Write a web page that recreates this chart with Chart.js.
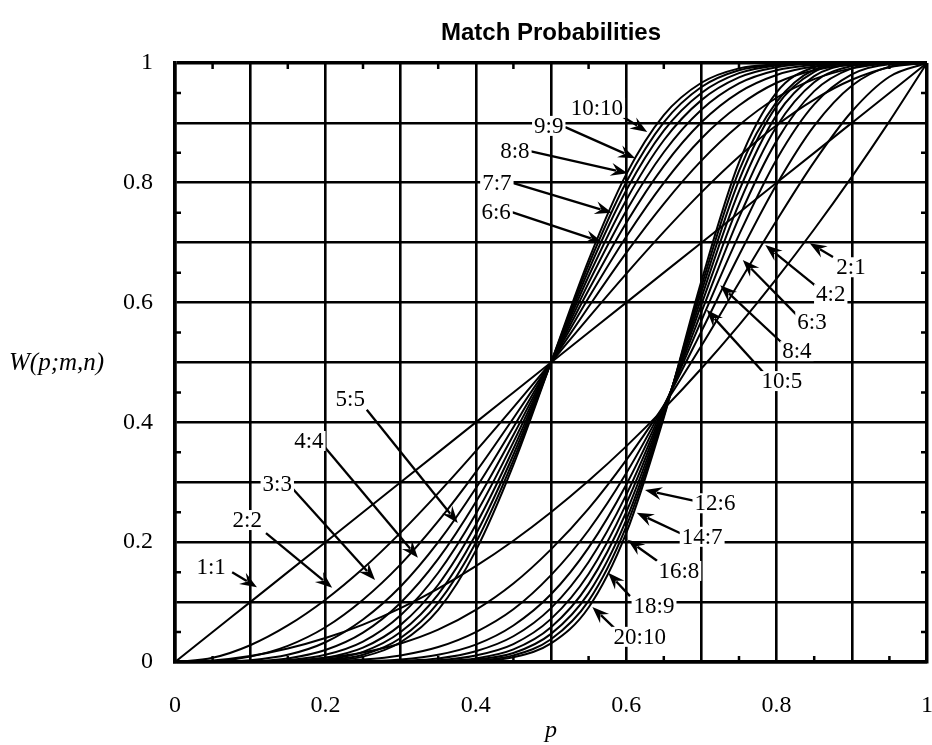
<!DOCTYPE html>
<html>
<head>
  <meta charset="UTF-8">
  <title>Match Probabilities</title>
  <script src="https://cdn.jsdelivr.net/npm/chart.js@4.4.1/dist/chart.umd.min.js"></script>
  <style>
    body { margin: 0; background: #fff; }
    canvas { display: block; }
  </style>
</head>
<body>
  <canvas id="match-chart" width="932" height="745"></canvas>

  <script>
    // p values the curves were read at
    const pValues = [0, 0.05, 0.1, 0.15, 0.2, 0.25, 0.3, 0.35, 0.4, 0.45, 0.5,
                     0.55, 0.6, 0.65, 0.7, 0.75, 0.8, 0.85, 0.9, 0.95, 1];

    // m:m curves (all cross at 0.5)
    const w1_1  = [0, 0.05, 0.1, 0.15, 0.2, 0.25, 0.3, 0.35, 0.4, 0.45, 0.5, 0.55, 0.6, 0.65, 0.7, 0.75, 0.8, 0.85, 0.9, 0.95, 1];
    const w2_2  = [0, 0.007, 0.028, 0.061, 0.104, 0.156, 0.216, 0.282, 0.352, 0.425, 0.5, 0.575, 0.648, 0.718, 0.784, 0.844, 0.896, 0.939, 0.972, 0.993, 1];
    const w3_3  = [0, 0.001, 0.009, 0.027, 0.058, 0.104, 0.163, 0.235, 0.317, 0.407, 0.5, 0.593, 0.683, 0.765, 0.837, 0.896, 0.942, 0.973, 0.991, 0.999, 1];
    const w4_4  = [0, 0, 0.003, 0.012, 0.033, 0.071, 0.126, 0.2, 0.29, 0.392, 0.5, 0.608, 0.71, 0.8, 0.874, 0.929, 0.967, 0.988, 0.997, 1, 1];
    const w5_5  = [0, 0, 0.001, 0.006, 0.02, 0.049, 0.099, 0.172, 0.267, 0.379, 0.5, 0.621, 0.733, 0.828, 0.901, 0.951, 0.98, 0.994, 0.999, 1, 1];
    const w6_6  = [0, 0, 0, 0.003, 0.012, 0.034, 0.078, 0.149, 0.247, 0.367, 0.5, 0.633, 0.753, 0.851, 0.922, 0.966, 0.988, 0.997, 1, 1, 1];
    const w7_7  = [0, 0, 0, 0.001, 0.007, 0.024, 0.062, 0.129, 0.229, 0.356, 0.5, 0.644, 0.771, 0.871, 0.938, 0.976, 0.993, 0.999, 1, 1, 1];
    const w8_8  = [0, 0, 0, 0.001, 0.004, 0.017, 0.05, 0.113, 0.213, 0.346, 0.5, 0.654, 0.787, 0.887, 0.95, 0.983, 0.996, 0.999, 1, 1, 1];
    const w9_9  = [0, 0, 0, 0, 0.003, 0.012, 0.04, 0.099, 0.199, 0.337, 0.5, 0.663, 0.801, 0.901, 0.96, 0.988, 0.997, 1, 1, 1, 1];
    const w10_10 = [0, 0, 0, 0, 0.002, 0.009, 0.033, 0.087, 0.186, 0.329, 0.5, 0.671, 0.814, 0.913, 0.967, 0.991, 0.998, 1, 1, 1, 1];

    // 2n:n curves (bunch up near p = 0.65)
    const w2_1  = [0, 0.0025, 0.01, 0.0225, 0.04, 0.0625, 0.09, 0.1225, 0.16, 0.2025, 0.25, 0.3025, 0.36, 0.4225, 0.49, 0.5625, 0.64, 0.7225, 0.81, 0.9025, 1];
    const w4_2  = [0, 0, 0, 0.002, 0.007, 0.016, 0.031, 0.054, 0.087, 0.131, 0.188, 0.256, 0.337, 0.428, 0.528, 0.633, 0.737, 0.835, 0.919, 0.977, 1];
    const w6_3  = [0, 0, 0, 0, 0.001, 0.004, 0.011, 0.025, 0.05, 0.088, 0.145, 0.22, 0.315, 0.428, 0.552, 0.679, 0.797, 0.895, 0.962, 0.994, 1];
    const w8_4  = [0, 0, 0, 0, 0, 0.001, 0.004, 0.012, 0.029, 0.061, 0.113, 0.191, 0.296, 0.426, 0.57, 0.713, 0.839, 0.931, 0.981, 0.998, 1];
    const w10_5 = [0, 0, 0, 0, 0, 0, 0.002, 0.006, 0.018, 0.043, 0.09, 0.167, 0.279, 0.423, 0.584, 0.742, 0.87, 0.953, 0.991, 1, 1];
    const w12_6 = [0, 0, 0, 0, 0, 0, 0.001, 0.003, 0.011, 0.03, 0.072, 0.147, 0.264, 0.42, 0.597, 0.765, 0.894, 0.968, 0.995, 1, 1];
    const w14_7 = [0, 0, 0, 0, 0, 0, 0, 0.002, 0.006, 0.021, 0.058, 0.13, 0.25, 0.417, 0.608, 0.786, 0.913, 0.978, 0.998, 1, 1];
    const w16_8 = [0, 0, 0, 0, 0, 0, 0, 0.001, 0.004, 0.015, 0.047, 0.115, 0.237, 0.414, 0.618, 0.804, 0.928, 0.985, 0.999, 1, 1];
    const w18_9 = [0, 0, 0, 0, 0, 0, 0, 0, 0.002, 0.011, 0.038, 0.102, 0.226, 0.411, 0.627, 0.82, 0.935, 0.989, 0.999, 1, 1];
    const w20_10 = [0, 0, 0, 0, 0, 0, 0, 0, 0.002, 0.008, 0.031, 0.091, 0.215, 0.408, 0.636, 0.834, 0.951, 0.993, 1, 1, 1];

    const seriesNames = ['1:1', '2:2', '3:3', '4:4', '5:5', '6:6', '7:7', '8:8', '9:9', '10:10',
                         '2:1', '4:2', '6:3', '8:4', '10:5', '12:6', '14:7', '16:8', '18:9', '20:10'];
    const seriesValues = [w1_1, w2_2, w3_3, w4_4, w5_5, w6_6, w7_7, w8_8, w9_9, w10_10,
                          w2_1, w4_2, w6_3, w8_4, w10_5, w12_6, w14_7, w16_8, w18_9, w20_10];

    // callout labels: text centre, arrow start and arrow tip, in (p, W) units
    const callouts = [
      { text: '10:10', at: [0.561, 0.925], from: [0.596, 0.910], to: [0.628, 0.885] },
      { text: '9:9',   at: [0.497, 0.895], from: [0.519, 0.893], to: [0.612, 0.841] },
      { text: '8:8',   at: [0.452, 0.853], from: [0.472, 0.853], to: [0.602, 0.816] },
      { text: '7:7',   at: [0.428, 0.800], from: [0.449, 0.800], to: [0.581, 0.750] },
      { text: '6:6',   at: [0.427, 0.751], from: [0.448, 0.751], to: [0.568, 0.701] },
      { text: '2:1',   at: [0.899, 0.659], from: [0.875, 0.676], to: [0.844, 0.699] },
      { text: '4:2',   at: [0.872, 0.614], from: [0.854, 0.626], to: [0.785, 0.696] },
      { text: '6:3',   at: [0.847, 0.568], from: [0.827, 0.579], to: [0.755, 0.671] },
      { text: '8:4',   at: [0.827, 0.519], from: [0.807, 0.533], to: [0.725, 0.629] },
      { text: '10:5',  at: [0.807, 0.469], from: [0.782, 0.484], to: [0.707, 0.588] },
      { text: '12:6',  at: [0.718, 0.265], from: [0.691, 0.269], to: [0.625, 0.287] },
      { text: '14:7',  at: [0.701, 0.209], from: [0.672, 0.215], to: [0.614, 0.249] },
      { text: '16:8',  at: [0.670, 0.152], from: [0.641, 0.169], to: [0.602, 0.204] },
      { text: '18:9',  at: [0.637, 0.093], from: [0.605, 0.110], to: [0.576, 0.149] },
      { text: '20:10', at: [0.618, 0.042], from: [0.584, 0.057], to: [0.555, 0.092] },
      { text: '5:5',   at: [0.233, 0.439], from: [0.255, 0.421], to: [0.376, 0.232] },
      { text: '4:4',   at: [0.178, 0.369], from: [0.199, 0.359], to: [0.323, 0.174] },
      { text: '3:3',   at: [0.136, 0.297], from: [0.156, 0.290], to: [0.266, 0.137] },
      { text: '2:2',   at: [0.096, 0.237], from: [0.121, 0.215], to: [0.209, 0.124] },
      { text: '1:1',   at: [0.048, 0.159], from: [0.076, 0.150], to: [0.109, 0.125] }
    ];

    const serif = "'Liberation Serif', 'Times New Roman', serif";

    function drawArrow(ctx, x1, y1, x2, y2) {
      const len = Math.hypot(x2 - x1, y2 - y1);
      const ux = (x2 - x1) / len, uy = (y2 - y1) / len;
      const nx = -uy, ny = ux;
      const head = 17, half = 6.5;
      ctx.beginPath();
      ctx.moveTo(x1, y1);
      ctx.lineTo(x2 - ux * head * 0.7, y2 - uy * head * 0.7);
      ctx.stroke();
      ctx.beginPath();
      ctx.moveTo(x2, y2);
      ctx.lineTo(x2 - ux * head + nx * half, y2 - uy * head + ny * half);
      ctx.lineTo(x2 - ux * head * 0.65, y2 - uy * head * 0.65);
      ctx.lineTo(x2 - ux * head - nx * half, y2 - uy * head - ny * half);
      ctx.closePath();
      ctx.fill();
    }

    const decorations = {
      id: 'decorations',
      beforeDraw(chart) {
        const ctx = chart.ctx;
        ctx.save();
        ctx.fillStyle = '#fff';
        ctx.fillRect(0, 0, chart.width, chart.height);
        ctx.restore();
      },
      beforeDatasetsDraw(chart) {
        // small inward ticks half way between grid lines
        const { ctx, chartArea: a, scales: { x, y } } = chart;
        ctx.save();
        ctx.strokeStyle = '#000';
        ctx.lineWidth = 2.5;
        for (let k = 0; k < 10; k++) {
          const v = k / 10 + 0.05;
          const px = x.getPixelForValue(v);
          const py = y.getPixelForValue(v);
          ctx.beginPath();
          ctx.moveTo(px, a.top); ctx.lineTo(px, a.top + 6);
          ctx.moveTo(px, a.bottom); ctx.lineTo(px, a.bottom - 6);
          ctx.moveTo(a.left, py); ctx.lineTo(a.left + 6, py);
          ctx.moveTo(a.right, py); ctx.lineTo(a.right - 6, py);
          ctx.stroke();
        }
        ctx.restore();
      },
      afterDraw(chart) {
        const { ctx, chartArea: a, scales: { x, y } } = chart;
        ctx.save();
        ctx.fillStyle = '#000';
        ctx.textAlign = 'center';
        ctx.textBaseline = 'alphabetic';
        ctx.font = "bold 24px 'Liberation Sans', Arial, sans-serif";
        ctx.fillText('Match Probabilities', (a.left + a.right) / 2, 40);

        ctx.font = 'italic 24px ' + serif;
        ctx.fillText('p', (a.left + a.right) / 2, 737);
        ctx.textAlign = 'left';
        ctx.textBaseline = 'middle';
        ctx.font = 'italic 25px ' + serif;
        ctx.fillText('W(p;m,n)', 9, 363);

        // callouts
        ctx.font = '23px ' + serif;
        ctx.strokeStyle = '#000';
        ctx.lineWidth = 2.3;
        for (const c of callouts) {
          const x1 = x.getPixelForValue(c.from[0]), y1 = y.getPixelForValue(c.from[1]);
          const x2 = x.getPixelForValue(c.to[0]), y2 = y.getPixelForValue(c.to[1]);
          ctx.fillStyle = '#000';
          drawArrow(ctx, x1, y1, x2, y2);
          const cx = x.getPixelForValue(c.at[0]), cy = y.getPixelForValue(c.at[1]);
          const w = ctx.measureText(c.text).width;
          ctx.fillStyle = '#fff';
          ctx.fillRect(cx - w / 2 - 2, cy - 10, w + 4, 20);
          ctx.fillStyle = '#000';
          ctx.textAlign = 'center';
          ctx.fillText(c.text, cx, cy + 1);
        }
        ctx.restore();
      }
    };

    const edgeWidth = c => (c.tick && (Math.abs(c.tick.value) < 1e-6 || Math.abs(c.tick.value - 1) < 1e-6)) ? 3.5 : 2.6;
    const tickLabel = v => {
      const k = Math.round(v * 10);
      return k % 2 === 0 ? String(k / 10) : '';
    };

    new Chart(document.getElementById('match-chart'), {
      type: 'line',
      data: {
        datasets: seriesValues.map((vals, i) => ({
          label: seriesNames[i],
          data: pValues.map((p, j) => ({ x: p, y: vals[j] })),
          borderColor: '#000',
          borderWidth: 2,
          pointRadius: 0,
          fill: false,
          cubicInterpolationMode: 'monotone'
        }))
      },
      options: {
        responsive: false,
        animation: false,
        devicePixelRatio: 1,
        layout: { padding: { top: 63, right: 5, left: 0, bottom: 0 } },
        plugins: {
          legend: { display: false },
          title: { display: false },
          tooltip: { enabled: false }
        },
        scales: {
          x: {
            type: 'linear',
            min: 0,
            max: 1,
            afterFit: s => { s.height = 83; s.paddingLeft = 0; s.paddingRight = 0; },
            ticks: {
              stepSize: 0.1,
              autoSkip: false,
              maxRotation: 0,
              padding: 29,
              color: '#000',
              font: { family: serif, size: 24 },
              callback: tickLabel
            },
            grid: { color: '#000', lineWidth: edgeWidth, drawTicks: false },
            border: { display: true, color: '#000', width: 3.5 }
          },
          y: {
            type: 'linear',
            min: 0,
            max: 1,
            afterFit: s => { s.width = 175; s.paddingTop = 0; s.paddingBottom = 0; },
            ticks: {
              stepSize: 0.1,
              autoSkip: false,
              padding: 22,
              color: '#000',
              font: { family: serif, size: 24 },
              callback: tickLabel
            },
            grid: { color: '#000', lineWidth: edgeWidth, drawTicks: false },
            border: { display: true, color: '#000', width: 3.5 }
          }
        }
      },
      plugins: [decorations]
    });
  </script>
</body>
</html>
